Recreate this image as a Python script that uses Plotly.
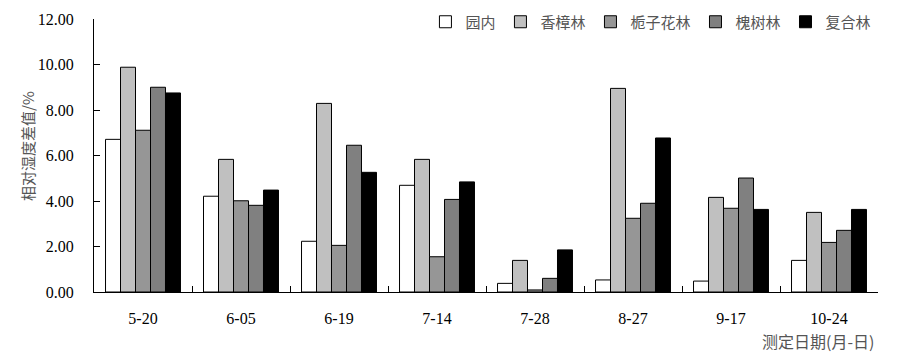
import plotly.graph_objects as go

dates = ["5-20", "6-05", "6-19", "7-14", "7-28", "8-27", "9-17", "10-24"]
yuannei = [6.71, 4.21, 2.23, 4.69, 0.38, 0.53, 0.48, 1.39]
xiangzhang = [9.88, 5.83, 8.29, 5.83, 1.39, 8.95, 4.16, 3.50]
zhizihua = [7.11, 4.01, 2.05, 1.55, 0.09, 3.24, 3.68, 2.18]
huaishu = [9.00, 3.81, 6.45, 4.07, 0.60, 3.90, 5.01, 2.71]
fuhe = [8.75, 4.48, 5.26, 4.84, 1.85, 6.77, 3.63, 3.63]

series = [
    ("园内", yuannei, "#FFFFFF"),
    ("香樟林", xiangzhang, "#C0C0C0"),
    ("栀子花林", zhizihua, "#969696"),
    ("槐树林", huaishu, "#808080"),
    ("复合林", fuhe, "#000000"),
]

FONT = '"Liberation Serif", "Times New Roman", "Noto Sans CJK SC", serif'
CJK = '"Noto Sans CJK SC", "Liberation Serif", serif'

fig = go.Figure()
for name, vals, color in series:
    fig.add_trace(go.Bar(
        x=dates, y=vals, name=name,
        marker=dict(color=color, line=dict(color="#000000", width=1)),
    ))

W, H = 902, 354
L, R, T, B = 94, 24, 19, 62
pw, ph = W - L - R, H - T - B

fig.update_layout(
    width=W, height=H,
    margin=dict(l=L, r=R, t=T, b=B, autoexpand=False),
    paper_bgcolor="white", plot_bgcolor="white",
    barmode="group", bargap=0.235, bargroupgap=0,
    font=dict(family=FONT, size=16, color="#000000"),
    showlegend=True,
    legend=dict(
        orientation="h", x=0.998, xanchor="right", y=0.989, yanchor="middle",
        font=dict(family=CJK, size=15, color="#555555"),
        bgcolor="rgba(0,0,0,0)", itemwidth=30, traceorder="normal",
    ),
    xaxis=dict(
        type="category", showline=True, linecolor="#000000", linewidth=1,
        ticks="inside", ticklen=6, tickcolor="#000000", tickwidth=1,
        tickson="boundaries", ticklabelstandoff=12,
        showgrid=False, zeroline=False,
        tickfont=dict(family=FONT, size=16, color="#000000"),
    ),
    yaxis=dict(
        range=[0, 12], dtick=2, tickformat=".2f",
        showline=True, linecolor="#000000", linewidth=1,
        ticks="inside", ticklen=6, tickcolor="#000000", tickwidth=1,
        ticklabelstandoff=16,
        showgrid=False, zeroline=False,
        tickfont=dict(family=FONT, size=16, color="#000000"),
    ),
    annotations=[
        dict(text="相对湿度差值/%", xref="paper", yref="paper",
             x=(27 - L) / pw, y=(T + ph - 146) / ph, xanchor="center", yanchor="middle",
             textangle=-90, showarrow=False,
             font=dict(family=CJK, size=15, color="#555555")),
        dict(text="测定日期(月-日)", xref="paper", yref="paper",
             x=(818 - L) / pw, y=(T + ph - 341) / ph, xanchor="center", yanchor="middle",
             showarrow=False,
             font=dict(family=CJK, size=16, color="#555555")),
    ],
)

fig.write_html("out.html")
